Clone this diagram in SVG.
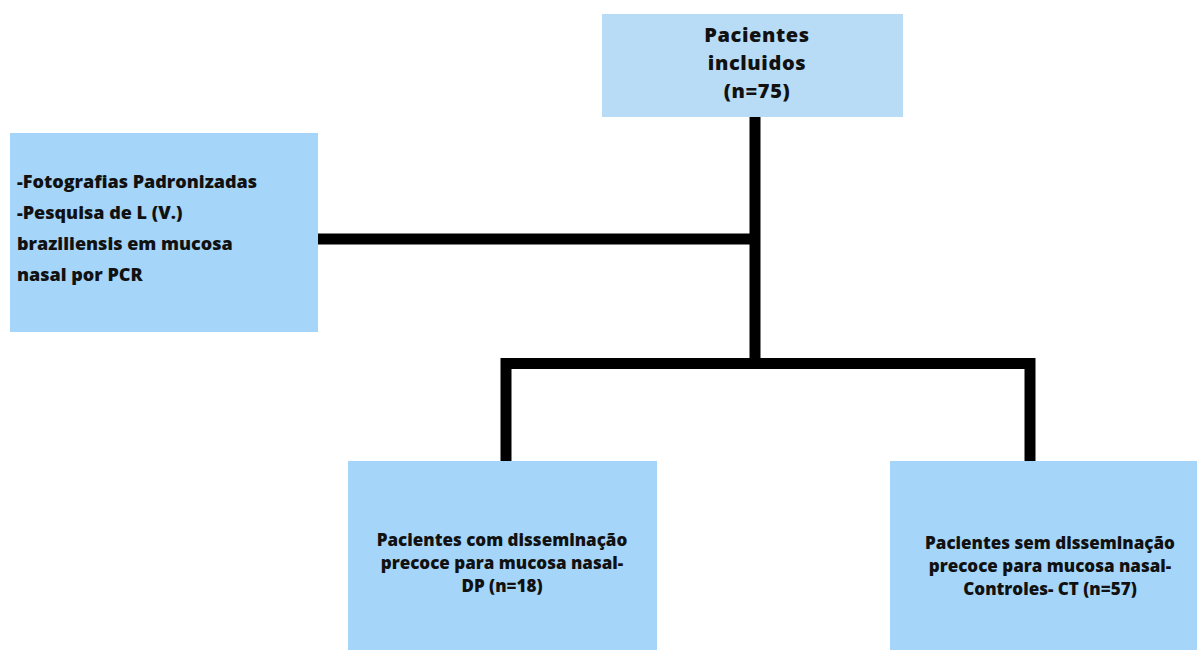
<svg xmlns="http://www.w3.org/2000/svg" width="1197" height="650" viewBox="0 0 1197 650">
<style>
.box{fill:#a5d5f8}
.top{fill:#b8dcf5}
.t{font-family:"Open Sans","Noto Sans","Liberation Sans",sans-serif;font-weight:800;fill:#111}
.c{text-anchor:middle}
.h{font-size:20px;letter-spacing:0.6px}
.ln{stroke:#000;stroke-width:11;fill:none;stroke-linecap:butt;stroke-linejoin:miter}
</style>
<rect width="1197" height="650" fill="#fff"/>
<g id="connectors">
<line class="ln" x1="755" y1="117" x2="755" y2="363"/>
<line class="ln" x1="318" y1="239" x2="755" y2="239"/>
<polyline class="ln" points="506,461 506,363.5 1030,363.5 1030,461"/>
</g>
<g id="node-incluidos">
<rect class="top" x="602" y="14" width="301" height="103"/>
<text class="t c h" x="757" y="42">Pacientes</text>
<text class="t c h" x="757" y="70">incluidos</text>
<text class="t c h" x="757" y="98">(n=75)</text>
</g>
<g id="node-exames">
<rect class="box" x="10" y="133" width="308" height="199"/>
<text class="t" font-size="18" x="17" y="188">-Fotografias Padronizadas</text>
<text class="t" font-size="18" x="17" y="219">-Pesquisa de L (V.)</text>
<text class="t" font-size="18" x="17" y="250">braziliensis em mucosa</text>
<text class="t" font-size="18" x="17" y="281">nasal por PCR</text>
</g>
<g id="node-dp">
<rect class="box" x="348" y="461" width="309" height="189"/>
<text class="t c" font-size="17" x="502" y="546">Pacientes com disseminação</text>
<text class="t c" font-size="17" x="502" y="569">precoce para mucosa nasal-</text>
<text class="t c" font-size="17" x="502" y="592">DP (n=18)</text>
</g>
<g id="node-ct">
<rect class="box" x="890" y="461" width="307" height="189"/>
<text class="t c" font-size="17" x="1050" y="549">Pacientes sem disseminação</text>
<text class="t c" font-size="17" x="1050" y="572">precoce para mucosa nasal-</text>
<text class="t c" font-size="17" x="1050" y="595">Controles- CT (n=57)</text>
</g>
</svg>
